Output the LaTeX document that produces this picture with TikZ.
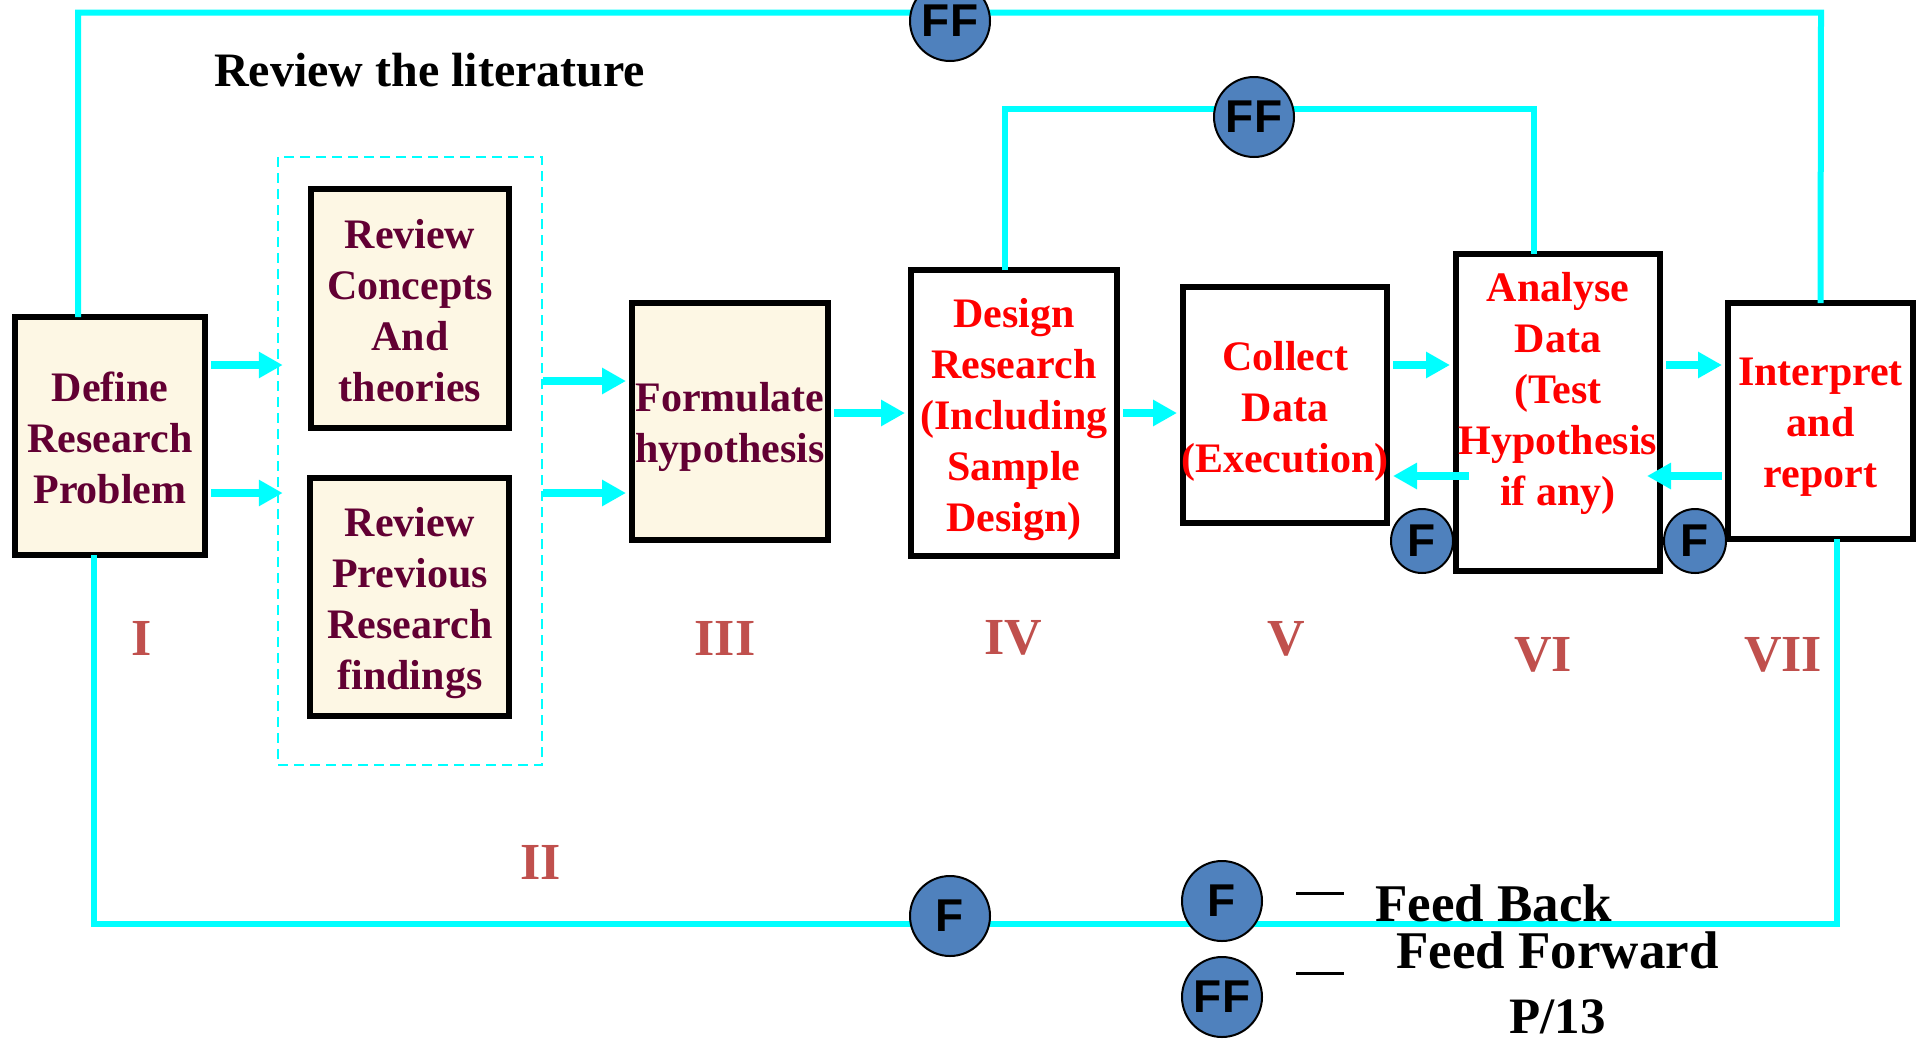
\documentclass[tikz,border=0pt]{standalone}
\usepackage{fontspec}
\setmainfont{Liberation Serif}
\newfontfamily\arialfont{Liberation Sans}
\usetikzlibrary{arrows.meta,shapes.geometric}
\definecolor{cyanline}{RGB}{0,255,255}
\definecolor{maroontext}{RGB}{98,0,51}
\definecolor{creamfill}{RGB}{253,247,228}
\definecolor{redtext}{RGB}{255,0,0}
\definecolor{romancol}{RGB}{192,80,77}
\definecolor{bluefill}{RGB}{79,129,189}
\begin{document}
\begin{tikzpicture}[x=1pt,y=-1pt,
  stepbox/.style={draw=black, line width=6pt, rectangle, inner sep=0pt},
  creambox/.style={stepbox, fill=creamfill},
  whitebox/.style={stepbox, fill=white},
  boxtext/.style={font=\fontsize{42pt}{51pt}\selectfont\bfseries, align=center, inner sep=0pt},
  maroonT/.style={boxtext, text=maroontext},
  redT/.style={boxtext, text=redtext},
  romanT/.style={font=\fontsize{52pt}{52pt}\selectfont\bfseries, text=romancol, inner sep=0pt},
  legendT/.style={font=\fontsize{53pt}{53pt}\selectfont\bfseries, text=black, inner sep=0pt, anchor=base west},
  cline/.style={draw=cyanline, line width=6pt, line join=miter},
  carrow/.style={draw=cyanline, line width=8pt, -{Triangle[length=24pt,width=25pt]}},
  bub/.style={ellipse, draw=black, line width=2pt, fill=bluefill, inner sep=0pt,
    font=\arialfont\bfseries\fontsize{46pt}{46pt}\selectfont},
  bigbub/.style={bub, minimum width=80pt, minimum height=80pt},
  smallbub/.style={bub, minimum width=62pt, minimum height=64pt},
]
\useasboundingbox (0,0) rectangle (1927,1042);

% helper coordinates
\coordinate (y365) at (0,365);
\coordinate (y381) at (0,381);
\coordinate (y413) at (0,413);
\coordinate (y476) at (0,476);
\coordinate (y493) at (0,493);

% dashed literature group
\node[draw=cyanline, dashed, dash pattern=on 10pt off 6pt, line width=2.5pt,
      minimum width=264pt, minimum height=608pt, inner sep=0pt] (litbox) at (410,461) {};

% boxes
\node[creambox, minimum width=190pt, minimum height=238pt] (define) at (110,436) {};
\node[creambox, minimum width=198pt, minimum height=239pt] (concepts) at (410,308.5) {};
\node[creambox, minimum width=199pt, minimum height=238pt] (previous) at (409.5,597) {};
\node[creambox, minimum width=196pt, minimum height=237pt] (formulate) at (730,421.5) {};
\node[whitebox, minimum width=206pt, minimum height=286pt] (design) at (1014,413) {};
\node[whitebox, minimum width=204pt, minimum height=236pt] (collect) at (1285,405) {};
\node[whitebox, minimum width=204pt, minimum height=317pt] (analyse) at (1558,412.5) {};
\node[whitebox, minimum width=185pt, minimum height=236pt] (interpret) at (1820.5,421) {};

% feed-forward / feedback lines
\coordinate (outerTL) at (78,12.5);
\coordinate (outerTR) at (1821,12.5);
\coordinate (innerL) at (1005,109);
\coordinate (innerR) at (1534,109);
\coordinate (botL) at (94,924);
\coordinate (botR) at (1837,924);
\draw[cline] ([xshift=-32pt,yshift=-3pt]define.north) -- (outerTL) -- (outerTR) -- ([yshift=-3pt]interpret.north);
\draw[cline] ([xshift=-9pt,yshift=-3pt]design.north) -- (innerL) -- (innerR) -- ([xshift=-24pt,yshift=-3pt]analyse.north);
\draw[cline] ([xshift=-16pt,yshift=3pt]define.south) -- (botL) -- (botR) -- ([xshift=16.5pt,yshift=3pt]interpret.south);

% texts in boxes
\node[maroonT] (defineT) at (110,438) {Define\\Research\\Problem};
\node[maroonT] (conceptsT) at (410,311) {Review\\Concepts\\And\\theories};
\node[maroonT] (previousT) at (410,603) {Review\\Previous\\Research\\findings};
\node[maroonT] (formulateT) at (730,426.5) {Formulate\\hypothesis};
\node[redT] (designT) at (1014,419.5) {Design\\Research\\(Including\\Sample\\Design)};
\node[redT] (collectT) at (1285,411) {Collect\\Data\\(Execution)};
\node[redT] (analyseT) at (1558,393) {Analyse\\Data\\(Test\\Hypothesis\\if any)};
\node[redT] (interpretT) at (1820.5,427) {Interpret\\and\\report};

% arrows
\draw[carrow, shorten <=3pt] (define.east |- y365) -- ([xshift=6pt]litbox.west |- y365);
\draw[carrow, shorten <=3pt] (define.east |- y493) -- ([xshift=6pt]litbox.west |- y493);
\draw[carrow, shorten >=3pt] (litbox.east |- y381) -- (formulate.west |- y381);
\draw[carrow, shorten >=3pt] (litbox.east |- y493) -- (formulate.west |- y493);
\draw[carrow, shorten <=3pt, shorten >=3pt] (formulate.east |- y413) -- (design.west |- y413);
\draw[carrow, shorten <=3pt, shorten >=3pt] (design.east |- y413) -- (collect.west |- y413);
\draw[carrow, shorten <=3pt, shorten >=3pt] (collect.east |- y365) -- (analyse.west |- y365);
\draw[carrow, shorten <=3pt, shorten >=3pt] (analyse.east |- y365) -- (interpret.west |- y365);
\draw[carrow, shorten >=3pt] ([xshift=16pt]analyse.west |- y476) -- (collect.east |- y476);
\draw[carrow, shorten <=3pt] (interpret.west |- y476) -- ([xshift=-16pt]analyse.east |- y476);

% bubbles
\node[bigbub] (ffTop) at (950,21) {FF};
\node[bigbub] (ffInner) at (1254,117) {FF};
\node[bigbub] (fBottom) at (950,916) {F};
\node[smallbub] (fCollect) at (1422,541) {F};
\node[smallbub] (fAnalyse) at (1695,541) {F};

% headings and numerals
\node[font=\fontsize{48pt}{48pt}\selectfont\bfseries, inner sep=0pt, anchor=base west] (litT) at (214,86) {Review the literature};
\node[romanT] (rI) at (142,638) {I};
\node[romanT] (rII) at (541,862) {II};
\node[romanT] (rIII) at (725,638) {III};
\node[romanT] (rIV) at (1013,638) {IV};
\node[romanT] (rV) at (1286,639) {V};
\node[romanT] (rVI) at (1543,655) {VI};
\node[romanT] (rVII) at (1783,655) {VII};

% legend
\node[bigbub] (legF) at (1222,901) {F};
\node[bigbub] (legFF) at (1222,997) {FF};
\draw[line width=3pt] ([xshift=33pt,yshift=8pt]legF.east) -- ++(48,0);
\draw[line width=3pt] ([xshift=33pt,yshift=24pt]legFF.east) -- ++(48,0);
\node[legendT] (legFB) at (1375,921) {Feed Back};
\node[legendT] (legFFT) at (1396,968) {Feed Forward};
\node[legendT, font=\fontsize{51pt}{51pt}\selectfont\bfseries] (pageT) at (1509,1033) {P/13};
\end{tikzpicture}
\end{document}
